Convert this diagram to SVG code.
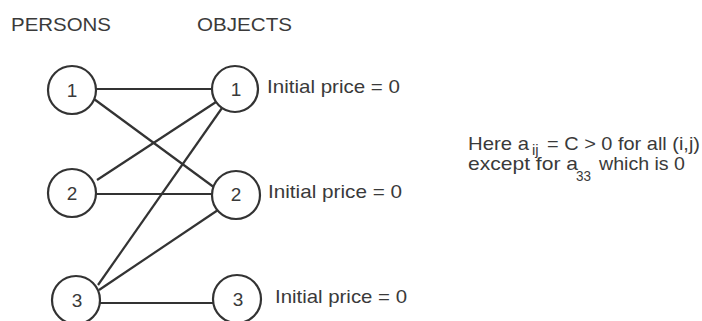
<svg xmlns="http://www.w3.org/2000/svg" width="702" height="321" viewBox="0 0 702 321">
<style>
.bg{fill:#ffffff}
.node circle{fill:#ffffff;stroke:#333333;stroke-width:2.2}
.node text,.lbl{font-family:"Liberation Sans",Arial,sans-serif;font-size:19px;fill:#3a3a3a}
.node text{text-anchor:middle}
.sub{font-family:"Liberation Sans",Arial,sans-serif;font-size:15px;fill:#3a3a3a}
#edges line{stroke:#333333;stroke-width:2.2}
</style>
<rect class="bg" x="0" y="0" width="702" height="321"/>
<text class="lbl" x="11" y="31" textLength="100" lengthAdjust="spacingAndGlyphs">PERSONS</text>
<text class="lbl" x="197" y="31" textLength="95" lengthAdjust="spacingAndGlyphs">OBJECTS</text>
<g id="edges">
<line x1="96" y1="89" x2="212" y2="89"/>
<line x1="94" y1="99" x2="215" y2="188"/>
<line x1="97" y1="180" x2="216" y2="102"/>
<line x1="96" y1="194" x2="212" y2="194"/>
<line x1="98" y1="285" x2="222" y2="108"/>
<line x1="99" y1="290" x2="218" y2="210"/>
<line x1="100" y1="303" x2="213" y2="303"/>
</g>
<g id="p1" class="node"><circle cx="72" cy="90" r="24"/><text x="72" y="97">1</text></g>
<g id="p2" class="node"><circle cx="72" cy="193" r="24"/><text x="72" y="200">2</text></g>
<g id="p3" class="node"><circle cx="76" cy="300" r="24"/><text x="77" y="307">3</text></g>
<g id="o1" class="node"><circle cx="235" cy="89" r="23"/><text x="236" y="96">1</text></g>
<g id="o2" class="node"><circle cx="236" cy="195" r="24"/><text x="236" y="201">2</text></g>
<g id="o3" class="node"><circle cx="237" cy="299" r="24"/><text x="238" y="306">3</text></g>
<text class="lbl" x="267" y="93" textLength="133" lengthAdjust="spacingAndGlyphs">Initial price = 0</text>
<text class="lbl" x="268" y="198" textLength="134" lengthAdjust="spacingAndGlyphs">Initial price = 0</text>
<text class="lbl" x="275" y="303" textLength="132" lengthAdjust="spacingAndGlyphs">Initial price = 0</text>
<text class="lbl" x="468" y="150" textLength="61" lengthAdjust="spacingAndGlyphs">Here a</text>
<text class="sub" x="532" y="155" font-size="9">ij</text>
<text class="lbl" x="547" y="150" textLength="153" lengthAdjust="spacingAndGlyphs">= C &gt; 0 for all (i,j)</text>
<text class="lbl" x="468" y="170" textLength="110" lengthAdjust="spacingAndGlyphs">except for a</text>
<text class="sub" x="576" y="181" textLength="15" lengthAdjust="spacingAndGlyphs">33</text>
<text class="lbl" x="599" y="170" textLength="86" lengthAdjust="spacingAndGlyphs">which is 0</text>
</svg>
